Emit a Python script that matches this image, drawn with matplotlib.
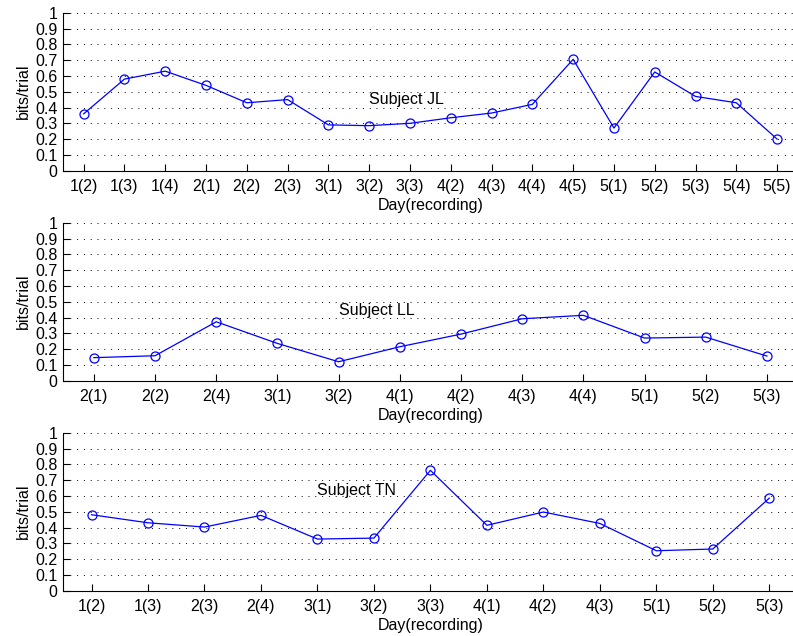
import matplotlib
matplotlib.use("Agg")
import matplotlib.pyplot as plt
import numpy as np

plt.rcParams['font.family'] = ['Liberation Sans', 'DejaVu Sans']

# Subject JL
jl_labels = ["1(2)", "1(3)", "1(4)", "2(1)", "2(2)", "2(3)", "3(1)", "3(2)", "3(3)",
             "4(2)", "4(3)", "4(4)", "4(5)", "5(1)", "5(2)", "5(3)", "5(4)", "5(5)"]
jl_values = [0.36, 0.58, 0.63, 0.54, 0.43, 0.45, 0.29, 0.285, 0.30,
             0.335, 0.365, 0.42, 0.705, 0.27, 0.625, 0.47, 0.43, 0.20]

# Subject LL
ll_labels = ["2(1)", "2(2)", "2(4)", "3(1)", "3(2)", "4(1)", "4(2)", "4(3)", "4(4)",
             "5(1)", "5(2)", "5(3)"]
ll_values = [0.146, 0.158, 0.373, 0.236, 0.12, 0.215, 0.295, 0.392, 0.414,
             0.27, 0.276, 0.156]

# Subject TN
tn_labels = ["1(2)", "1(3)", "2(3)", "2(4)", "3(1)", "3(2)", "3(3)", "4(1)", "4(2)",
             "4(3)", "5(1)", "5(2)", "5(3)"]
tn_values = [0.481, 0.43, 0.403, 0.477, 0.327, 0.333, 0.762, 0.414, 0.498,
             0.426, 0.253, 0.264, 0.586]

panels = [
    (jl_labels, jl_values, "Subject JL", (8.0, 0.45), [0.0798, 0.7316, 0.9259, 0.2484]),
    (ll_labels, ll_values, "Subject LL", (5.0, 0.447), [0.0798, 0.4014, 0.9259, 0.2484]),
    (tn_labels, tn_values, "Subject TN", (5.0, 0.637), [0.0798, 0.0712, 0.9259, 0.2484]),
]

fig = plt.figure(figsize=(7.93, 6.36), dpi=100)

for labels, values, title, (tx, ty), rect in panels:
    ax = fig.add_axes(rect)
    x = np.arange(1, len(labels) + 1)
    ax.plot(x, values, color=(0, 0, 1), lw=0.9, marker='o', markersize=6.5,
            markerfacecolor='none', markeredgecolor=(0, 0, 1), markeredgewidth=0.9)
    ax.set_xlim(0.5, len(labels) + 0.5)
    ax.set_ylim(0, 1)
    ax.set_xticks(x)
    ax.set_xticklabels(labels)
    yt = np.round(np.arange(0, 1.01, 0.1), 1)
    ax.set_yticks(yt)
    ax.set_yticklabels(["0" if v == 0 else ("1" if v == 1 else f"{v:g}") for v in yt])
    ax.yaxis.grid(True, linestyle=(0, (1, 6)), color='black', lw=0.7)
    ax.set_axisbelow(True)
    for s in ('top', 'right'):
        ax.spines[s].set_visible(False)
    ax.spines['left'].set_linewidth(0.8)
    ax.spines['bottom'].set_linewidth(0.8)
    ax.tick_params(direction='in', length=5, width=0.8, labelsize=11.5, pad=4)
    ax.tick_params(axis='x', pad=6)
    ax.set_ylabel("bits/trial", fontsize=11.5, labelpad=3)
    ax.set_xlabel("Day(recording)", fontsize=11.5, labelpad=3)
    ax.text(tx, ty, title, fontsize=11.5, ha='left', va='center')

fig.savefig("out.png", dpi=100)
